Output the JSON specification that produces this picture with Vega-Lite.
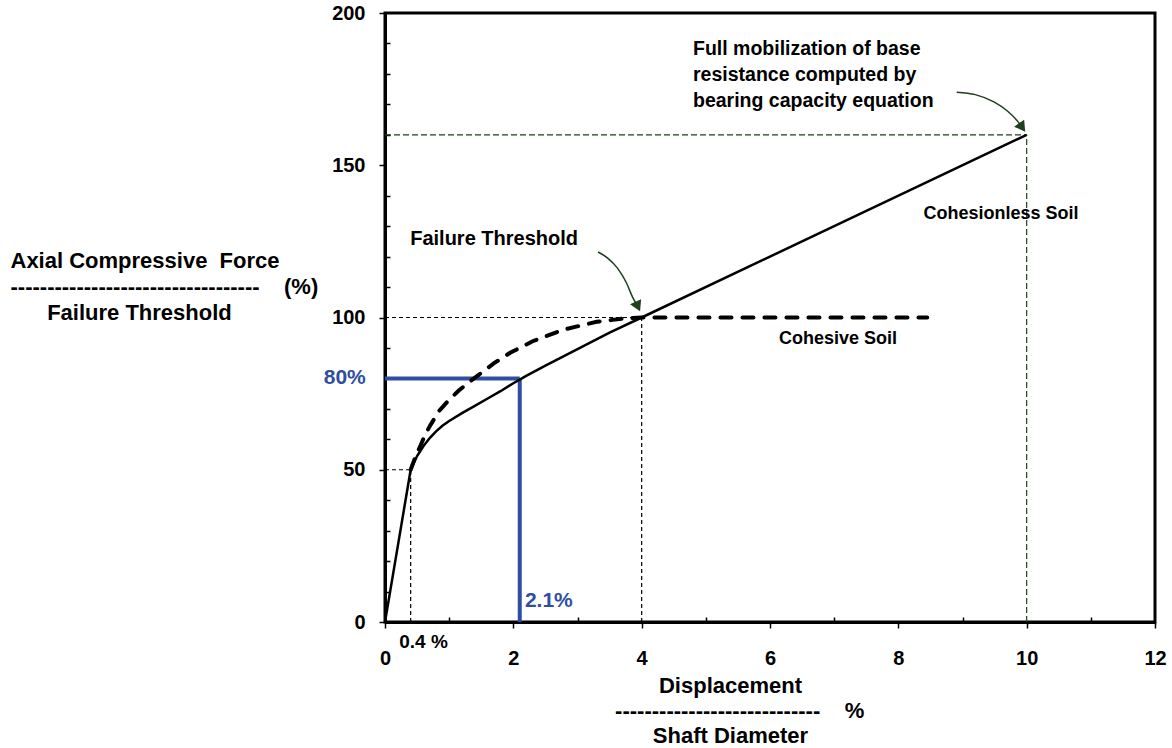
{
  "$schema": "https://vega.github.io/schema/vega-lite/v6.json",
  "width": 770,
  "height": 609,
  "autosize": {"type": "none"},
  "padding": {"left": 385, "top": 13, "right": 17, "bottom": 126},
  "background": "white",
  "config": {
    "font": "Liberation Sans",
    "view": {"stroke": "#000", "strokeWidth": 3},
    "axis": {
      "grid": false, "domainColor": "#000", "domainWidth": 3, "tickColor": "#000", "tickWidth": 1.5,
      "labelFont": "Liberation Sans", "labelFontWeight": "bold", "labelFontSize": 20, "labelColor": "#000",
      "titleFont": "Liberation Sans", "titleFontWeight": "bold", "titleFontSize": 22, "titleColor": "#000",
      "labelFlush": false, "labelOverlap": false
    }
  },
  "datasets": {
    "solid": [
      {"x": 0, "y": 0}, {"x": 0.4, "y": 50}, {"x": 0.5, "y": 54.5}, {"x": 0.6, "y": 57.8}, {"x": 0.7, "y": 60.5},
      {"x": 0.8, "y": 62.7}, {"x": 0.9, "y": 64.5}, {"x": 1.0, "y": 66}, {"x": 1.2, "y": 68.6}, {"x": 1.4, "y": 71},
      {"x": 1.6, "y": 73.4}, {"x": 1.8, "y": 75.8}, {"x": 2.0, "y": 78.4}, {"x": 2.1, "y": 79.6}, {"x": 2.2, "y": 80.8},
      {"x": 2.5, "y": 84.2}, {"x": 3.0, "y": 89.6}, {"x": 3.5, "y": 95}, {"x": 4.0, "y": 100}, {"x": 10, "y": 160}
    ],
    "dashed": [
      {"x": 0.4, "y": 50}, {"x": 0.47, "y": 54}, {"x": 0.55, "y": 57.8}, {"x": 0.62, "y": 61.2}, {"x": 0.7, "y": 64.4},
      {"x": 0.85, "y": 69.5}, {"x": 1.0, "y": 73}, {"x": 1.15, "y": 76}, {"x": 1.3, "y": 78.6}, {"x": 1.45, "y": 81},
      {"x": 1.7, "y": 85}, {"x": 1.95, "y": 88.4}, {"x": 2.3, "y": 92.2}, {"x": 2.78, "y": 96}, {"x": 3.3, "y": 98.6},
      {"x": 3.7, "y": 99.6}, {"x": 4.0, "y": 100}, {"x": 8.45, "y": 100}
    ],
    "refBlack": [
      {"x": 0, "y": 50, "x2": 0.4, "y2": 50}, {"x": 0.4, "y": 0, "x2": 0.4, "y2": 50},
      {"x": 0, "y": 100, "x2": 4, "y2": 100}, {"x": 4, "y": 0, "x2": 4, "y2": 100}
    ],
    "refGreen": [
      {"x": 0, "y": 160, "x2": 10, "y2": 160}, {"x": 10, "y": 0, "x2": 10, "y2": 160}
    ],
    "blue": [
      {"x": 0, "y": 80, "x2": 2.1, "y2": 80}, {"x": 2.1, "y": 0, "x2": 2.1, "y2": 80}
    ],
    "arrow1": [
      {"x": 3.32, "y": 121.5}, {"x": 3.47, "y": 119.5}, {"x": 3.62, "y": 116.3}, {"x": 3.76, "y": 111.5},
      {"x": 3.86, "y": 106.6}, {"x": 3.94, "y": 103.6}
    ],
    "arrow2": [
      {"x": 8.91, "y": 174}, {"x": 9.2, "y": 173.2}, {"x": 9.49, "y": 170.8}, {"x": 9.7, "y": 167.8},
      {"x": 9.86, "y": 164.4}, {"x": 9.93, "y": 162.4}
    ],
    "head1": [{"x": 3.94, "y": 103.6}],
    "head2": [{"x": 9.93, "y": 162.4}],
    "labelsCenter": [{"x": 1.7, "y": 125.9, "t": "Failure Threshold"}],
    "labelsSoil": [
      {"x": 7.06, "y": 92.9, "t": "Cohesive Soil"},
      {"x": 9.6, "y": 134.1, "t": "Cohesionless Soil"}
    ],
    "labelsNote": [{"x": 4.8, "y": 188.2, "t": "Full mobilization of base\nresistance computed by\nbearing capacity equation"}],
    "labelsBlueRight": [{"x": -0.3, "y": 80, "t": "80%"}],
    "labelsBlueLeft": [{"x": 2.18, "y": 6.9, "t": "2.1%"}],
    "labelsSmall": [{"x": 0.6, "y": -6.5, "t": "0.4 %"}]
  },
  "resolve": {"axis": {"x": "independent", "y": "independent"}},
  "layer": [
    {
      "encoding": {
        "x": {"field": "x", "type": "quantitative", "scale": {"domain": [0, 12], "nice": false},
          "axis": {
            "values": [0, 2, 4, 6, 8, 10, 12],
            "tickSize": 6, "labelPadding": 20,
            "title": ["Displacement", "\u200b\u00a0\u00a0\u00a0----------------------------\u00a0\u00a0\u00a0\u00a0%", "Shaft Diameter"],
            "titleX": 345, "titleY": 70, "titleBaseline": "alphabetic", "titleLineHeight": 25
          }},
        "y": {"field": "y", "type": "quantitative", "scale": {"domain": [0, 200], "nice": false},
          "axis": {
            "values": [0, 50, 100, 150, 200],
            "tickSize": 6, "labelPadding": 14,
            "title": ["Axial\u00a0Compressive\u00a0\u00a0Force", "----------------------------------\u00a0\u00a0\u00a0\u00a0(%)", "\u200b\u00a0\u00a0\u00a0\u00a0\u00a0\u00a0Failure\u00a0Threshold"],
            "titleAngle": 0, "titleAlign": "left", "titleBaseline": "alphabetic",
            "titleX": -375, "titleY": 254, "titleLineHeight": 26
          }}
      },
      "layer": [
        {
          "data": {"name": "refBlack"},
          "mark": {"type": "rule", "color": "#000", "strokeWidth": 1.2, "strokeDash": [4, 3]},
          "encoding": {"x2": {"field": "x2"}, "y2": {"field": "y2"}}
        },
        {
          "data": {"name": "refGreen"},
          "mark": {"type": "rule", "color": "#1F3F1F", "strokeWidth": 1.2, "strokeDash": [6, 3]},
          "encoding": {"x2": {"field": "x2"}, "y2": {"field": "y2"}}
        },
        {
          "data": {"name": "blue"},
          "mark": {"type": "rule", "color": "#2F4EA3", "strokeWidth": 4},
          "encoding": {"x2": {"field": "x2"}, "y2": {"field": "y2"}}
        },
        {
          "data": {"name": "dashed"},
          "mark": {"type": "line", "color": "#000", "strokeWidth": 4, "strokeDash": [11, 11], "strokeCap": "round"},
          "encoding": {}
        },
        {
          "data": {"name": "solid"},
          "mark": {"type": "line", "color": "#000", "strokeWidth": 2.5},
          "encoding": {}
        },
        {
          "data": {"name": "arrow1"},
          "mark": {"type": "line", "color": "#1F3F1F", "strokeWidth": 1.5, "interpolate": "monotone"},
          "encoding": {}
        },
        {
          "data": {"name": "arrow2"},
          "mark": {"type": "line", "color": "#1F3F1F", "strokeWidth": 1.5, "interpolate": "monotone"},
          "encoding": {}
        },
        {
          "data": {"name": "head1"},
          "mark": {"type": "point", "shape": "triangle-up", "angle": 155, "size": 150, "filled": true, "color": "#1F3F1F", "opacity": 1}
        },
        {
          "data": {"name": "head2"},
          "mark": {"type": "point", "shape": "triangle-up", "angle": 145, "size": 150, "filled": true, "color": "#1F3F1F", "opacity": 1}
        },
        {
          "data": {"name": "labelsCenter"},
          "mark": {"type": "text", "fontSize": 20, "fontWeight": "bold", "color": "#000", "align": "center", "baseline": "middle"},
          "encoding": {"text": {"field": "t"}}
        },
        {
          "data": {"name": "labelsSoil"},
          "mark": {"type": "text", "fontSize": 18, "fontWeight": "bold", "color": "#000", "align": "center", "baseline": "middle"},
          "encoding": {"text": {"field": "t"}}
        },
        {
          "data": {"name": "labelsNote"},
          "mark": {"type": "text", "fontSize": 19.5, "fontWeight": "bold", "color": "#000", "align": "left", "baseline": "middle", "lineBreak": "\n", "lineHeight": 26},
          "encoding": {"text": {"field": "t"}}
        },
        {
          "data": {"name": "labelsBlueRight"},
          "mark": {"type": "text", "fontSize": 21, "fontWeight": "bold", "color": "#2F4EA3", "align": "right", "baseline": "middle"},
          "encoding": {"text": {"field": "t"}}
        },
        {
          "data": {"name": "labelsBlueLeft"},
          "mark": {"type": "text", "fontSize": 21, "fontWeight": "bold", "color": "#2F4EA3", "align": "left", "baseline": "middle"},
          "encoding": {"text": {"field": "t"}}
        },
        {
          "data": {"name": "labelsSmall"},
          "mark": {"type": "text", "fontSize": 19, "fontWeight": "bold", "color": "#000", "align": "center", "baseline": "middle"},
          "encoding": {"text": {"field": "t"}}
        }
      ]
    },
    {
      "data": {"name": "head1"},
      "mark": {"type": "point", "opacity": 0},
      "encoding": {
        "x": {"field": "x", "type": "quantitative", "scale": {"domain": [0, 12], "nice": false},
          "axis": {
            "orient": "top", "offset": -609, "values": [1, 3, 5, 7, 9, 11],
            "labels": false, "domain": false, "tickSize": 5, "title": null
          }},
        "y": {"field": "y", "type": "quantitative", "scale": {"domain": [0, 200], "nice": false},
          "axis": {
            "orient": "right", "offset": -770,
            "values": [10, 20, 30, 40, 60, 70, 80, 90, 110, 120, 130, 140, 160, 170, 180, 190],
            "labels": false, "domain": false, "tickSize": 5, "title": null
          }}
      }
    }
  ]
}
